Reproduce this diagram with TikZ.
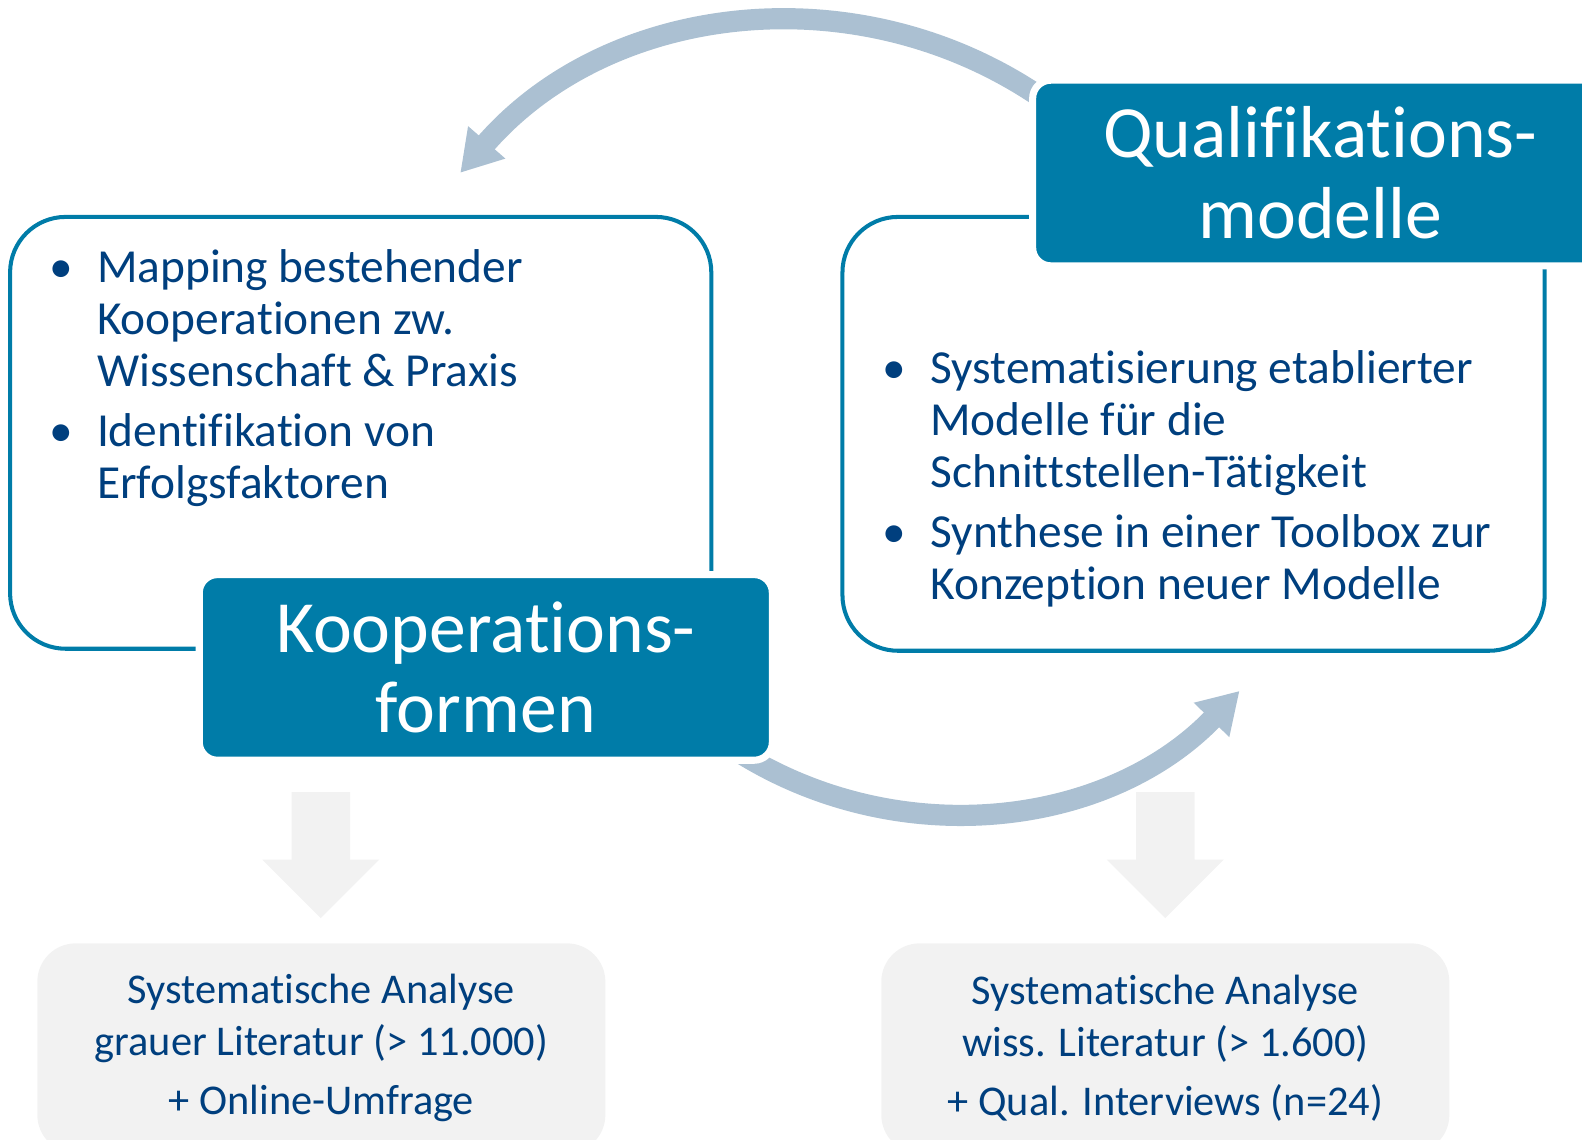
\documentclass[tikz,border=0pt]{standalone}
\usepackage{fontspec}
\setmainfont{Carlito}[Ligatures={NoCommon,NoRare,NoContextual},Contextuals=NoAlternate]
\usetikzlibrary{arrows.meta}
\definecolor{boxblue}{RGB}{0,124,168}
\definecolor{textblue}{RGB}{0,63,126}
\definecolor{arrowblue}{RGB}{171,192,210}
\definecolor{paleGray}{RGB}{242,242,242}
\newcommand{\bul}{\leavevmode\llap{\textbullet\hspace{24pt}}}
\begin{document}
\begin{tikzpicture}[x=1pt,y=-1pt,line join=round]
  \tikzset{outlinebox/.style={draw=boxblue,line width=4pt,rounded corners=55pt},
    titlebox/.style={fill=boxblue,draw=white,line width=7pt,rounded corners=18pt,text=white,align=center,inner sep=0pt,font=\fontsize{73}{80}\selectfont},
    bullettext/.style={text=textblue,align=flush left,text width=620pt,inner sep=0pt,font=\fontsize{47}{51.5}\selectfont},
    graybox/.style={fill=paleGray,rounded corners=38pt,text=textblue,align=center,minimum width=563pt,minimum height=208pt,font=\fontsize{42}{51}\selectfont},
    cyclearrow/.style={draw=arrowblue,line width=21pt,-{Triangle[width=46pt,length=40pt]}}}
  \clip (0,0) rectangle (1568,1129);
  % frames
  \draw[outlinebox] (10,215) rectangle (705,643);
  \draw[outlinebox] (835,215) rectangle (1531,645);
  % cycle arrows
  \coordinate (topc) at (786,458);
  \coordinate (botc) at (943,409);
  \draw[cyclearrow] (topc) ++(-52:437) arc[start angle=-52,end angle=-139,radius=437];
  \draw[cyclearrow] (botc) ++(124:397) arc[start angle=124,end angle=44,radius=397];
  % titles
  \node[titlebox,minimum width=568pt,minimum height=184pt] (koop) at (481.5,661.5) {Kooperations-\\formen};
  \node[titlebox,minimum width=570pt,minimum height=184pt] (quali) at (1308.5,171.5) {Qualifikations-\\modelle};
  % lists
  \node[bullettext,anchor=base west] (kooplist) at (96,280) {\bul Mapping bestehender\\Kooperationen zw.\\Wissenschaft \& Praxis\par\vspace{8.5pt}\bul Identifikation von\\Erfolgsfaktoren};
  \node[bullettext,anchor=base west] (qualilist) at (922,380) {\bul Systematisierung etablierter\\Modelle für die\\Schnittstellen-Tätigkeit\par\vspace{8.5pt}\bul Synthese in einer Toolbox zur\\Konzeption neuer Modelle};
  % methods
  \foreach \cx in {318,1155}
    \fill[paleGray] (\cx-29,785) -- (\cx+29,785) -- (\cx+29,852) -- (\cx+58,852) -- (\cx,910) -- (\cx-58,852) -- (\cx-29,852) -- cycle;
  \node[graybox] (graulit) at (318.5,1039) {Systematische Analyse\\grauer Literatur (> 11.000)\\[8pt]+ Online-Umfrage};
  \node[graybox] (wisslit) at (1155,1039) {Systematische Analyse\\wiss. Literatur (> 1.600)\\[8pt]+ Qual. Interviews (n=24)};
\end{tikzpicture}
\end{document}
